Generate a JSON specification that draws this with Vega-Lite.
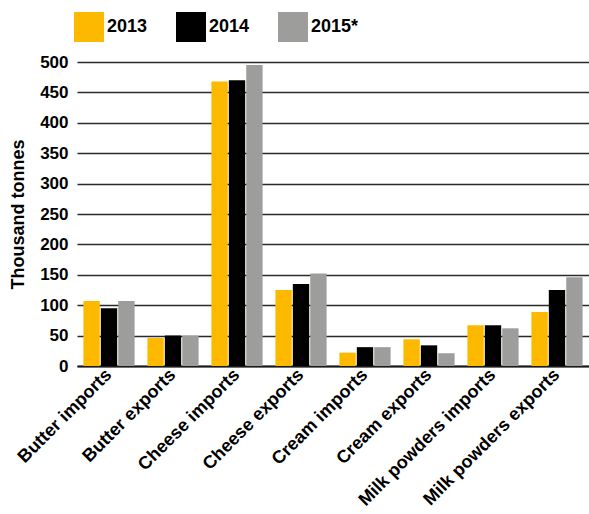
{
  "$schema": "https://vega.github.io/schema/vega-lite/v6.json",
  "width": 512,
  "height": 304,
  "autosize": "none",
  "padding": {"left": 77, "top": 62, "right": 0, "bottom": 148},
  "background": "white",
  "config": {
    "font": "Liberation Sans",
    "view": {"stroke": null}
  },
  "data": {
    "values": [
      {"product": "Butter imports", "year": "2013", "value": 107},
      {"product": "Butter imports", "year": "2014", "value": 95},
      {"product": "Butter imports", "year": "2015*", "value": 107},
      {"product": "Butter exports", "year": "2013", "value": 46},
      {"product": "Butter exports", "year": "2014", "value": 50},
      {"product": "Butter exports", "year": "2015*", "value": 50},
      {"product": "Cheese imports", "year": "2013", "value": 468},
      {"product": "Cheese imports", "year": "2014", "value": 470},
      {"product": "Cheese imports", "year": "2015*", "value": 495},
      {"product": "Cheese exports", "year": "2013", "value": 125},
      {"product": "Cheese exports", "year": "2014", "value": 135},
      {"product": "Cheese exports", "year": "2015*", "value": 152},
      {"product": "Cream imports", "year": "2013", "value": 22},
      {"product": "Cream imports", "year": "2014", "value": 31},
      {"product": "Cream imports", "year": "2015*", "value": 31},
      {"product": "Cream exports", "year": "2013", "value": 44},
      {"product": "Cream exports", "year": "2014", "value": 34},
      {"product": "Cream exports", "year": "2015*", "value": 21},
      {"product": "Milk powders imports", "year": "2013", "value": 67},
      {"product": "Milk powders imports", "year": "2014", "value": 67},
      {"product": "Milk powders imports", "year": "2015*", "value": 62},
      {"product": "Milk powders exports", "year": "2013", "value": 89},
      {"product": "Milk powders exports", "year": "2014", "value": 125},
      {"product": "Milk powders exports", "year": "2015*", "value": 146}
    ]
  },
  "mark": {"type": "bar"},
  "encoding": {
    "x": {
      "field": "product",
      "type": "nominal",
      "sort": null,
      "scale": {"paddingInner": 0.2, "paddingOuter": 0.1},
      "axis": {
        "title": null,
        "labelAngle": -45,
        "labelAlign": "right",
        "labelBaseline": "middle",
        "labelFontSize": 18,
        "labelFontWeight": "bold",
        "labelColor": "black",
        "labelPadding": 6,
        "ticks": false,
        "domainColor": "#1a1a1a",
        "domainWidth": 2,
        "labelLimit": 300
      }
    },
    "xOffset": {
      "field": "year",
      "type": "nominal",
      "scale": {"paddingInner": 0.06, "paddingOuter": 0}
    },
    "y": {
      "field": "value",
      "type": "quantitative",
      "scale": {"domain": [0, 500]},
      "axis": {
        "title": "Thousand tonnes",
        "titleFontSize": 18,
        "titleFontWeight": "bold",
        "titleColor": "black",
        "titlePadding": 12,
        "values": [0, 50, 100, 150, 200, 250, 300, 350, 400, 450, 500],
        "labelFontSize": 17,
        "labelFontWeight": "bold",
        "labelColor": "black",
        "labelPadding": 9,
        "ticks": false,
        "domain": false,
        "grid": true,
        "gridColor": "#2a2a2a",
        "gridWidth": 1.6
      }
    },
    "color": {
      "field": "year",
      "type": "nominal",
      "scale": {"domain": ["2013", "2014", "2015*"], "range": ["#FDB900", "#000000", "#9D9D9C"]},
      "legend": {
        "title": null,
        "orient": "none",
        "direction": "horizontal",
        "legendX": -3,
        "legendY": -50,
        "symbolType": "square",
        "symbolSize": 900,
        "symbolStrokeWidth": 0,
        "symbolOpacity": 1,
        "labelFontSize": 18,
        "labelFontWeight": "bold",
        "labelColor": "black",
        "labelOffset": 3,
        "columnPadding": 28
      }
    }
  }
}
